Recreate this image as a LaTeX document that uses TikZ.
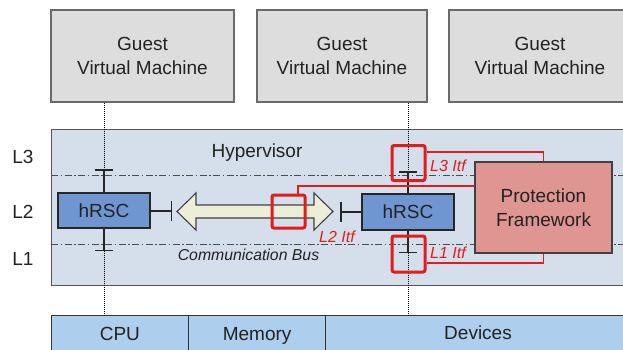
\documentclass[tikz,border=0pt]{standalone}
\usepackage{fontspec}
\setmainfont{Liberation Sans}
\usetikzlibrary{arrows.meta}
\definecolor{guestfill}{HTML}{DDDDDD}
\definecolor{guestdraw}{HTML}{6A6A6A}
\definecolor{hypfill}{HTML}{D5DFEC}
\definecolor{hypdraw}{HTML}{555555}
\definecolor{rscfill}{HTML}{6F96D1}
\definecolor{arrowfill}{HTML}{EDEED7}
\definecolor{pffill}{HTML}{DF9692}
\definecolor{hwfill}{HTML}{AECEEE}
\definecolor{itfred}{HTML}{E21B1B}
\definecolor{darktext}{HTML}{222222}
\newcommand\bigtxt{\fontsize{19}{23.5}\selectfont}
\newcommand\itftxt{\fontsize{16}{19}\selectfont\itshape}
\begin{document}
\begin{tikzpicture}[x=1pt,y=-1pt,
  guest/.style={draw=guestdraw, line width=1.2pt, fill=guestfill, align=center, font=\bigtxt, text=darktext, minimum height=92pt, inner sep=0pt},
  hypbox/.style={draw=hypdraw, line width=1.2pt, fill=hypfill},
  rsc/.style={draw=black!85, line width=1.2pt, fill=rscfill, font=\bigtxt, text=darktext, minimum width=92pt, minimum height=35pt, inner sep=0pt},
  pfbox/.style={draw=black!75, line width=1.2pt, fill=pffill, font=\bigtxt, text=darktext, align=center, minimum width=137pt, minimum height=91pt, inner sep=0pt},
  hwcell/.style={draw=black!80, line width=1.2pt, fill=hwfill, font=\bigtxt, text=darktext, minimum height=36pt, text height=13.6pt, text depth=0pt, inner sep=0pt},
  layerline/.style={draw=black!70, line width=0.8pt, dash pattern=on 7pt off 2.5pt on 1.5pt off 2.5pt},
  dotline/.style={draw=black, line width=0.9pt, dash pattern=on 1pt off 1pt},
  tbar/.style={draw=black!85, line width=1.5pt, -{Bar[width=18pt]}},
  itfsq/.style={draw=itfred, line width=3pt, inner sep=0pt, rounded corners=2pt},
  itfline/.style={draw=itfred, line width=1.5pt},
  itflabel/.style={text=itfred, font=\itftxt, inner sep=0pt},
  lvl/.style={font=\bigtxt, text=darktext, inner sep=0pt}]
\useasboundingbox (0,0) rectangle (623,350);
\clip (0,0) rectangle (623,350);
\fill[white] (0,0) rectangle (623,350);

% guests
\node[guest, minimum width=183pt] (g1) at (142.5,56) {Guest\\Virtual Machine};
\node[guest, minimum width=170pt] (g2) at (342,56) {Guest\\Virtual Machine};
\node[guest, minimum width=182pt] (g3) at (540,56) {Guest\\Virtual Machine};

% hypervisor
\node[hypbox, anchor=north west, minimum width=600pt, minimum height=156pt, inner sep=0pt] (hyp) at (51,129) {};
\node[lvl] (hyplabel) at (257,153) {Hypervisor};

% layer lines
\coordinate (l3a) at (51,175.5);
\coordinate (l3b) at (623,175.5);
\coordinate (l1a) at (51,244);
\coordinate (l1b) at (623,244);
\draw[layerline] (l3a) -- (l3b);
\draw[layerline] (l1a) -- (l1b);

\node[lvl] (L3) at (23,157) {L3};
\node[lvl] (L2) at (23,212) {L2};
\node[lvl] (L1) at (23,259) {L1};

% hardware
\node[hwcell, anchor=north west, minimum width=137.5pt] (cpu) at (50.5,315) {CPU};
\node[hwcell, anchor=north west, minimum width=137pt] (mem) at (188,315) {Memory};
\node[hwcell, anchor=north west, minimum width=310pt] (dev) at (325,315) {};
\node[lvl, text height=13.6pt, text depth=0pt] (devlabel) at (478,333) {Devices};

% rsc nodes (positions)
\coordinate (r1c) at (104,210.5);
\coordinate (r2c) at (408,212);

% dotted lines
\draw[dotline] (g1.south -| r1c) -- (cpu.north -| r1c);
\draw[dotline] (g2.south -| r2c) -- (dev.north -| r2c);

\node[rsc] (hrsc1) at (r1c) {hRSC};
\node[rsc, minimum height=36pt] (hrsc2) at (r2c) {hRSC};

% T-bar interfaces
\coordinate (t1u) at (104,169);
\coordinate (t1d) at (104,251);
\coordinate (t1r) at (172,211);
\coordinate (t2u) at (408,171);
\coordinate (t2d) at (408,253);
\coordinate (t2l) at (340,212);
\draw[tbar] (hrsc1.north) -- (t1u);
\draw[tbar] (hrsc1.south) -- (t1d);
\draw[tbar, -{Bar[width=20pt]}] (hrsc1.east |- t1r) -- (t1r);
\draw[tbar] (hrsc2.north) -- (t2u);
\draw[tbar] (hrsc2.south) -- (t2d);
\draw[tbar, -{Bar[width=20pt]}] (hrsc2.west |- t2l) -- (t2l);

% communication bus arrow
\draw[draw=black!75, line width=1.1pt, fill=arrowfill, line join=miter]
  (177,211.5) -- (196,193) -- (196,205) -- (314,205) -- (314,193) -- (333,211.5)
  -- (314,230) -- (314,218) -- (196,218) -- (196,230) -- cycle;
\node[font=\fontsize{15.8}{18}\selectfont\itshape, text=darktext, inner sep=0pt] (bus) at (248.5,255) {Communication Bus};

% interface squares
\node[itfsq, minimum width=33pt, minimum height=35pt] (sq3) at (408.5,163) {};
\node[itfsq, minimum width=33pt, minimum height=36pt] (sq1) at (408.5,254) {};
\node[itfsq, minimum width=33pt, minimum height=33pt] (sq2) at (288.5,211.5) {};

% protection framework
\coordinate (pfc) at (543.5,207.5);
% red connectors
\draw[itfline] ([yshift=-8pt]sq3.north east) -| (pfc |- 0,162);
\draw[itfline] ([yshift=-9pt]sq1.east) -| (pfc |- 0,253);
\draw[itfline] ([xshift=9.5pt]sq2.north) |- (475,186);
\node[pfbox] (pf) at (pfc) {Protection\\Framework};

\node[itflabel] (lab3) at (448,166) {L3 Itf};
\node[itflabel] (lab1) at (448,253) {L1 Itf};
\node[itflabel] (lab2) at (337,237) {L2 Itf};
\end{tikzpicture}
\end{document}
